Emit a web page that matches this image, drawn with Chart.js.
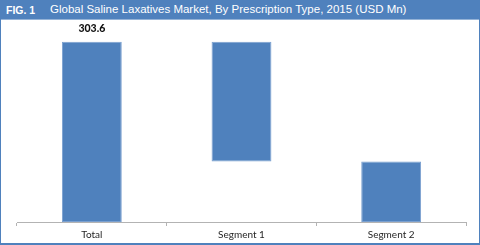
<!DOCTYPE html>
<html>
<head>
<meta charset="utf-8">
<script src="https://cdn.jsdelivr.net/npm/chart.js@4/dist/chart.umd.min.js"></script>
<style>
  html, body { margin: 0; padding: 0; background: #fff; }
  #frame { position: absolute; left: 0; top: 0; width: 480px; height: 245px; box-sizing: border-box; border: 1px solid #4f81bd; border-bottom-width: 2px; }
  #head { position: absolute; left: 0; top: 0; width: 478px; height: 18px; background: #4f81bd; border-bottom: 1px solid #95b3d7; color: #fff; font-family: "Liberation Sans", Arial, sans-serif; }
  #fig { position: absolute; left: 5px; top: 3px; font-size: 10.5px; font-weight: bold; }
  #title { position: absolute; left: 49px; top: 2px; font-size: 11.5px; white-space: nowrap; }
  #wrap { position: absolute; left: 0; top: 19px; width: 478px; height: 224px; }
</style>
</head>
<body>
<div id="frame">
  <div id="head"><span id="fig">FIG. 1</span><span id="title">Global Saline Laxatives Market, By Prescription Type, 2015 (USD Mn)</span></div>
  <div id="wrap"><canvas id="chart"></canvas></div>
</div>
<script>
const categories = ["Total", "Segment 1", "Segment 2"];
const values = [303.6, 201.6, 102.0];
const labelShown = [true, false, false];

// waterfall: total from zero, segments stacked downwards from the total
const ranges = [[0, values[0]]];
let level = values[0];
for (let i = 1; i < values.length; i++) {
  ranges.push([level - values[i], level]);
  level -= values[i];
}

const topLabel = {
  id: "topLabel",
  afterDatasetsDraw(chart) {
    const ctx = chart.ctx;
    const meta = chart.getDatasetMeta(0);
    ctx.save();
    ctx.font = "900 10.5px Lato, sans-serif";
    ctx.fillStyle = "#111";
    ctx.textAlign = "center";
    ctx.textBaseline = "middle";
    meta.data.forEach((bar, i) => {
      if (!labelShown[i]) return;
      ctx.fillText(values[i].toFixed(1), bar.x, bar.y - 13);
    });
    ctx.restore();
  },
};

new Chart(document.getElementById("chart"), {
  type: "bar",
  data: {
    labels: categories,
    datasets: [{
      data: ranges,
      backgroundColor: "#4f81bd",
      borderColor: "#7aa0d0",
      borderWidth: 1,
      borderSkipped: false,
      barPercentage: 0.8,
      categoryPercentage: 0.5,
    }],
  },
  options: {
    responsive: true,
    maintainAspectRatio: false,
    animation: false,
    layout: { padding: { left: 16, right: 13, top: 6, bottom: 0 } },
    plugins: { legend: { display: false }, tooltip: { enabled: false } },
    scales: {
      x: {
        grid: { drawOnChartArea: false, drawTicks: true, tickLength: 4, offset: true, color: "#b3b3b3" },
        border: { color: "#b3b3b3", width: 1 },
        ticks: { color: "#262626", font: { family: "Lato", size: 10 }, padding: 3 },
      },
      y: { display: false, min: 0, max: 330 },
    },
  },
  plugins: [topLabel],
});
</script>
</body>
</html>
